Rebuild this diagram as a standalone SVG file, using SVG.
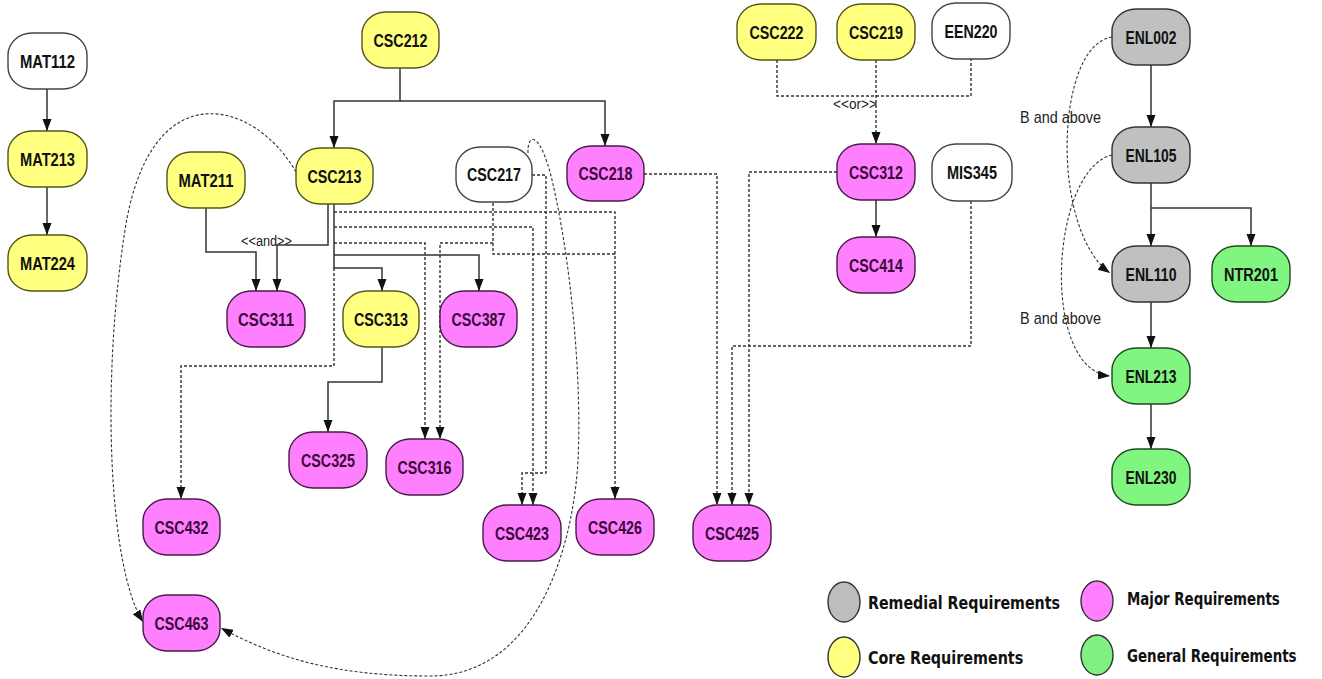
<svg xmlns="http://www.w3.org/2000/svg" width="1322" height="679" viewBox="0 0 1322 679">
  <style>
    .node rect { stroke: #333; stroke-width: 1.4; }
    .node text { font-family: "Liberation Sans", Arial, sans-serif; font-weight: bold; font-size: 19px; text-anchor: middle; fill: #111; }
    .core rect { fill: #ffff80; stroke: #55551a; }
    .major rect { fill: #ff80ff; stroke: #4a1a4a; }
    .major text { fill: #3a0a3a; }
    .remedial rect { fill: #c0c0c0; }
    .general rect { fill: #80f580; stroke: #1f4a1f; }
    .plain rect { fill: #ffffff; stroke: #444; }
    .s { fill: none; stroke: #333; stroke-width: 1.5; }
    .d { fill: none; stroke: #333; stroke-width: 1.4; stroke-dasharray: 3 2; }
    .c { fill: none; stroke: #333; stroke-width: 1.1; stroke-dasharray: 3 2; }
    .lbl { font-family: "Liberation Sans", Arial, sans-serif; font-size: 14px; fill: #222; }
    .note { font-family: "Liberation Sans", Arial, sans-serif; font-size: 17px; fill: #222; }
    .legend text { font-family: "DejaVu Sans", Verdana, sans-serif; font-weight: bold; font-size: 17px; fill: #111; }
    .legend ellipse { stroke: #333; stroke-width: 1.4; }
  </style>
  <defs>
    <marker id="arrow" markerUnits="userSpaceOnUse" markerWidth="12" markerHeight="10" refX="12" refY="4.5" orient="auto">
      <path d="M0,0 L12,4.5 L0,9 z" fill="#111"/>
    </marker>
  </defs>

  <rect width="1322" height="679" fill="#ffffff"/>

  <!-- connectors -->
  <g id="connectors">
    <!-- solid prerequisites -->
    <path class="s" d="M47,89 V131" marker-end="url(#arrow)"/>
    <path class="s" d="M47,187 V235" marker-end="url(#arrow)"/>
    <path class="s" d="M400,68 V101 H334 V148" marker-end="url(#arrow)"/>
    <path class="s" d="M400,101 H605 V146" marker-end="url(#arrow)"/>
    <path class="s" d="M206,208 V252 H256 V291" marker-end="url(#arrow)"/>
    <path class="s" d="M328,204 V245 H277 V291" marker-end="url(#arrow)"/>
    <path class="s" d="M334,204 V268 H382 V291" marker-end="url(#arrow)"/>
    <path class="s" d="M334,255 H479 V291" marker-end="url(#arrow)"/>
    <path class="s" d="M382,347 V382 H328 V432" marker-end="url(#arrow)"/>
    <path class="s" d="M876,200 V237" marker-end="url(#arrow)"/>
    <path class="s" d="M1151,65 V127" marker-end="url(#arrow)"/>
    <path class="s" d="M1151,183 V246" marker-end="url(#arrow)"/>
    <path class="s" d="M1151,208 H1251 V246" marker-end="url(#arrow)"/>
    <path class="s" d="M1151,302 V348" marker-end="url(#arrow)"/>
    <path class="s" d="M1151,404 V449" marker-end="url(#arrow)"/>

    <!-- dashed prerequisites -->
    <path class="d" d="M334,268 V366 H181 V499" marker-end="url(#arrow)"/>
    <path class="d" d="M334,212 H615 V499" marker-end="url(#arrow)"/>
    <path class="d" d="M334,227 H533 V505" marker-end="url(#arrow)"/>
    <path class="d" d="M334,243 H425 V439" marker-end="url(#arrow)"/>
    <path class="d" d="M493,203 V243 H440 V439" marker-end="url(#arrow)"/>
    <path class="d" d="M493,243 V254 H615"/>
    <path class="d" d="M532,175 H546 V473 H522 V505" marker-end="url(#arrow)"/>
    <path class="d" d="M644,174 H717 V505" marker-end="url(#arrow)"/>
    <path class="d" d="M837,172 H749 V505" marker-end="url(#arrow)"/>
    <path class="d" d="M971,201 V346 H732 V505" marker-end="url(#arrow)"/>
    <path class="d" d="M777,60 V96 H971 V59"/>
    <path class="d" d="M876,60 V144" marker-end="url(#arrow)"/>

    <!-- curved links -->
    <path class="c" d="M296,172 C255,100 150,70 125,230 C100,390 110,570 143,622" marker-end="url(#arrow)"/>
    <path class="c" d="M528,153 C527,133 540,130 552,180 C571,260 582,380 578,460 C574,540 540,676 430,676 C340,676 280,660 221,628" marker-end="url(#arrow)"/>
    <path class="c" d="M1112,37 C1055,45 1050,230 1110,273" marker-end="url(#arrow)"/>
    <path class="c" d="M1112,155 C1050,170 1040,370 1110,376" marker-end="url(#arrow)"/>

    <text class="lbl" x="241" y="246" textLength="51" lengthAdjust="spacingAndGlyphs">&lt;&lt;and&gt;&gt;</text>
    <text class="lbl" x="833" y="109" textLength="44" lengthAdjust="spacingAndGlyphs">&lt;&lt;or&gt;&gt;</text>
    <text class="note" x="1020" y="123" textLength="81" lengthAdjust="spacingAndGlyphs">B and above</text>
    <text class="note" x="1020" y="324" textLength="81" lengthAdjust="spacingAndGlyphs">B and above</text>
  </g>

  <!-- mathematics -->
  <g id="MAT112" class="node plain"><rect x="8" y="33" width="79" height="56" rx="24" ry="22"/><text x="47.5" y="67.5" textLength="55" lengthAdjust="spacingAndGlyphs">MAT112</text></g>
  <g id="MAT213" class="node core"><rect x="8" y="131" width="79" height="56" rx="24" ry="22"/><text x="47.5" y="165.5" textLength="55" lengthAdjust="spacingAndGlyphs">MAT213</text></g>
  <g id="MAT224" class="node core"><rect x="8" y="235" width="79" height="56" rx="24" ry="22"/><text x="47.5" y="269.5" textLength="55" lengthAdjust="spacingAndGlyphs">MAT224</text></g>
  <g id="MAT211" class="node core"><rect x="167" y="152" width="78" height="56" rx="24" ry="22"/><text x="206" y="186.5" textLength="55" lengthAdjust="spacingAndGlyphs">MAT211</text></g>

  <!-- computer science -->
  <g id="CSC212" class="node core"><rect x="362" y="12" width="77" height="56" rx="24" ry="22"/><text x="400.5" y="46.5" textLength="54" lengthAdjust="spacingAndGlyphs">CSC212</text></g>
  <g id="CSC213" class="node core"><rect x="296" y="148" width="77" height="56" rx="24" ry="22"/><text x="334.5" y="182.5" textLength="54" lengthAdjust="spacingAndGlyphs">CSC213</text></g>
  <g id="CSC217" class="node plain"><rect x="456" y="147" width="76" height="55" rx="24" ry="22"/><text x="494" y="181" textLength="54" lengthAdjust="spacingAndGlyphs">CSC217</text></g>
  <g id="CSC218" class="node major"><rect x="567" y="146" width="77" height="55" rx="24" ry="22"/><text x="605.5" y="180" textLength="54" lengthAdjust="spacingAndGlyphs">CSC218</text></g>
  <g id="CSC222" class="node core"><rect x="737" y="4" width="79" height="56" rx="24" ry="22"/><text x="776.5" y="38.5" textLength="54" lengthAdjust="spacingAndGlyphs">CSC222</text></g>
  <g id="CSC219" class="node core"><rect x="837" y="4" width="78" height="56" rx="24" ry="22"/><text x="876" y="38.5" textLength="54" lengthAdjust="spacingAndGlyphs">CSC219</text></g>
  <g id="EEN220" class="node plain"><rect x="932" y="3" width="78" height="56" rx="24" ry="22"/><text x="971" y="37.5" textLength="53" lengthAdjust="spacingAndGlyphs">EEN220</text></g>
  <g id="CSC312" class="node major"><rect x="837" y="144" width="78" height="56" rx="24" ry="22"/><text x="876" y="178.5" textLength="54" lengthAdjust="spacingAndGlyphs">CSC312</text></g>
  <g id="MIS345" class="node plain"><rect x="932" y="144" width="80" height="57" rx="24" ry="22"/><text x="972" y="179" textLength="50" lengthAdjust="spacingAndGlyphs">MIS345</text></g>
  <g id="CSC414" class="node major"><rect x="837" y="237" width="78" height="56" rx="24" ry="22"/><text x="876" y="271.5" textLength="54" lengthAdjust="spacingAndGlyphs">CSC414</text></g>
  <g id="CSC311" class="node major"><rect x="227" y="291" width="78" height="56" rx="24" ry="22"/><text x="266" y="325.5" textLength="56" lengthAdjust="spacingAndGlyphs">CSC311</text></g>
  <g id="CSC313" class="node core"><rect x="343" y="291" width="76" height="56" rx="24" ry="22"/><text x="381" y="325.5" textLength="54" lengthAdjust="spacingAndGlyphs">CSC313</text></g>
  <g id="CSC387" class="node major"><rect x="440" y="291" width="77" height="56" rx="24" ry="22"/><text x="478.5" y="325.5" textLength="54" lengthAdjust="spacingAndGlyphs">CSC387</text></g>
  <g id="CSC325" class="node major"><rect x="289" y="432" width="78" height="56" rx="24" ry="22"/><text x="328" y="466.5" textLength="54" lengthAdjust="spacingAndGlyphs">CSC325</text></g>
  <g id="CSC316" class="node major"><rect x="386" y="439" width="77" height="56" rx="24" ry="22"/><text x="424.5" y="473.5" textLength="54" lengthAdjust="spacingAndGlyphs">CSC316</text></g>
  <g id="CSC432" class="node major"><rect x="143" y="499" width="77" height="56" rx="24" ry="22"/><text x="181.5" y="533.5" textLength="54" lengthAdjust="spacingAndGlyphs">CSC432</text></g>
  <g id="CSC463" class="node major"><rect x="143" y="595" width="77" height="56" rx="24" ry="22"/><text x="181.5" y="629.5" textLength="54" lengthAdjust="spacingAndGlyphs">CSC463</text></g>
  <g id="CSC423" class="node major"><rect x="483" y="505" width="78" height="56" rx="24" ry="22"/><text x="522" y="539.5" textLength="54" lengthAdjust="spacingAndGlyphs">CSC423</text></g>
  <g id="CSC426" class="node major"><rect x="576" y="499" width="78" height="56" rx="24" ry="22"/><text x="615" y="533.5" textLength="54" lengthAdjust="spacingAndGlyphs">CSC426</text></g>
  <g id="CSC425" class="node major"><rect x="693" y="505" width="78" height="56" rx="24" ry="22"/><text x="732" y="539.5" textLength="54" lengthAdjust="spacingAndGlyphs">CSC425</text></g>

  <!-- english and general -->
  <g id="ENL002" class="node remedial"><rect x="1112" y="9" width="78" height="56" rx="24" ry="22"/><text x="1151" y="43.5" textLength="51" lengthAdjust="spacingAndGlyphs">ENL002</text></g>
  <g id="ENL105" class="node remedial"><rect x="1112" y="127" width="78" height="56" rx="24" ry="22"/><text x="1151" y="161.5" textLength="51" lengthAdjust="spacingAndGlyphs">ENL105</text></g>
  <g id="ENL110" class="node remedial"><rect x="1112" y="246" width="78" height="56" rx="24" ry="22"/><text x="1151" y="280.5" textLength="51" lengthAdjust="spacingAndGlyphs">ENL110</text></g>
  <g id="NTR201" class="node general"><rect x="1212" y="246" width="78" height="56" rx="24" ry="22"/><text x="1251" y="280.5" textLength="54" lengthAdjust="spacingAndGlyphs">NTR201</text></g>
  <g id="ENL213" class="node general"><rect x="1112" y="348" width="78" height="56" rx="24" ry="22"/><text x="1151" y="382.5" textLength="51" lengthAdjust="spacingAndGlyphs">ENL213</text></g>
  <g id="ENL230" class="node general"><rect x="1112" y="449" width="78" height="56" rx="24" ry="22"/><text x="1151" y="483.5" textLength="51" lengthAdjust="spacingAndGlyphs">ENL230</text></g>

  <!-- legend: labels drawn narrow, as a condensed face -->
  <g id="legend" class="legend">
    <ellipse cx="844" cy="602" rx="16" ry="20" fill="#bdbdbd"/>
    <text transform="translate(868,609) scale(0.8,1)" textLength="240" lengthAdjust="spacingAndGlyphs">Remedial Requirements</text>
    <ellipse cx="1097" cy="601" rx="16" ry="20" fill="#ff80ff"/>
    <text transform="translate(1127,605) scale(0.8,1)" textLength="191" lengthAdjust="spacingAndGlyphs">Major Requirements</text>
    <ellipse cx="844" cy="657" rx="16" ry="20" fill="#ffff80"/>
    <text transform="translate(868,664) scale(0.8,1)" textLength="194" lengthAdjust="spacingAndGlyphs">Core Requirements</text>
    <ellipse cx="1097" cy="655" rx="16" ry="20" fill="#80f080"/>
    <text transform="translate(1127,662) scale(0.8,1)" textLength="212" lengthAdjust="spacingAndGlyphs">General Requirements</text>
  </g>
</svg>
